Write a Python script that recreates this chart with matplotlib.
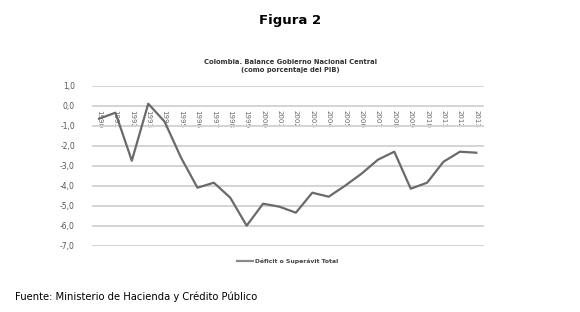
import matplotlib
matplotlib.use('Agg')
import matplotlib.pyplot as plt

# Balance of the central government, % of GDP
years = list(range(1990, 2014))
balance = [-0.65, -0.35, -2.75, 0.1, -0.8, -2.6, -4.1, -3.85, -4.6, -6.0,
           -4.9, -5.05, -5.35, -4.35, -4.55, -4.0, -3.4, -2.7, -2.3, -4.15,
           -3.85, -2.8, -2.3, -2.35]
y_ticks = [1, 0, -1, -2, -3, -4, -5, -6, -7]
y_labels = ['1,0', '0,0', '-1,0', '-2,0', '-3,0', '-4,0', '-5,0', '-6,0', '-7,0']

fig = plt.figure(figsize=(5.8, 3.12), dpi=100)
ax = fig.add_axes([0.158, 0.2125, 0.676, 0.5128])

x = list(range(len(years)))
ax.plot(x, balance, color='#6a6a6a', lw=1.6, label='Déficit o Superávit Total')

ax.set_ylim(-7, 1)
ax.set_xlim(-0.45, len(years) - 0.55)
ax.set_yticks(y_ticks)
ax.set_yticklabels(y_labels)
ax.grid(axis='y', color='#d4d4d4', lw=1.4)
ax.set_axisbelow(True)
for s in ['top', 'right', 'left']:
    ax.spines[s].set_visible(False)
# year labels sit right under the zero line
ax.spines['bottom'].set_position(('data', 0))
ax.spines['bottom'].set_visible(False)
ax.set_xticks(x)
ax.set_xticklabels([str(y) for y in years], rotation=270)
ax.tick_params(axis='x', length=0, pad=3, labelsize=5, labelcolor='#666666')
ax.tick_params(axis='y', length=0, pad=12, labelsize=5.5, labelcolor='#555555')

fig.text(0.5, 0.935, 'Figura 2', ha='center', va='center',
         fontsize=9.5, fontweight='bold', family='DejaVu Sans')
fig.text(0.5, 0.79, 'Colombia. Balance Gobierno Nacional Central\n(como porcentaje del PIB)',
         ha='center', va='center', fontsize=4.9, fontweight='bold',
         color='#333333', linespacing=1.4)

leg = ax.legend(loc='center', bbox_to_anchor=(0.5, -0.1), frameon=False,
                handlelength=2.6, handletextpad=0.3,
                labelcolor='#444444', prop={'weight': 'bold', 'size': 4.4})
leg.get_lines()[0].set_color('#8a8a8a')

fig.text(0.026, 0.05, 'Fuente: Ministerio de Hacienda y Crédito Público',
         ha='left', va='center', fontsize=7.2, family='DejaVu Sans')

fig.savefig('out.png', dpi=100)
